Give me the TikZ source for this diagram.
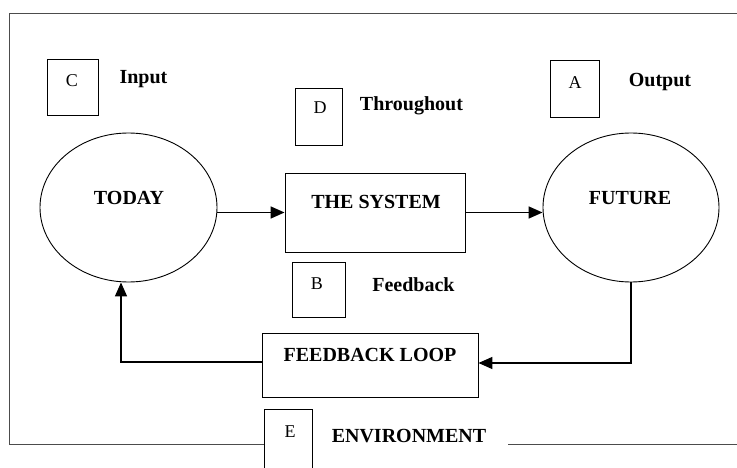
\documentclass[tikz,border=0pt]{standalone}
\usepackage{fontspec}
\setmainfont{Liberation Serif}
\usetikzlibrary{arrows.meta,calc,shapes.geometric}
\begin{document}
\begin{tikzpicture}[x=1pt,y=-1pt,
  lbl/.style={font=\fontsize{20}{23}\selectfont\bfseries, inner sep=0pt},
  letter/.style={font=\fontsize{18}{21}\selectfont, inner sep=0pt},
  box/.style={draw, line width=0.9pt, inner sep=0pt, rectangle},
  oval/.style={draw, ellipse, line width=0.9pt, inner sep=0pt},
  conn/.style={line width=1.5pt, -{Triangle[length=14pt,width=12pt]}},
  frame/.style={draw=black!70, line width=1pt},
]
\useasboundingbox (0,0) rectangle (737,468);
\clip (0,0) rectangle (737,468);

% frame
\coordinate (fTR) at (737,14);
\coordinate (fTL) at (9,14);
\coordinate (fBL) at (9,444);
\coordinate (fBR) at (737,444);
\coordinate (fB2) at (508,444);

% ellipses
\node[oval, minimum width=177pt, minimum height=149pt] (today) at (128.5,207.5) {};
\node[oval, minimum width=176pt, minimum height=149pt] (future) at (631,207.5) {};
\node[lbl] (todayt) at (129,198) {TODAY};
\node[lbl] (futuret) at (630,198) {FUTURE};
\coordinate (todayin) at ($(today.south)+(-7.5,0)$);

% main boxes
\node[box, minimum width=180pt, minimum height=79pt] (system) at (375,212.5) {};
\node[lbl] (systemt) at (376,202) {THE SYSTEM};
\node[box, minimum width=216pt, minimum height=64pt] (fbl) at (370,365) {};
\node[lbl] (fblt) at (370,355) {FEEDBACK LOOP};

% letter boxes
\node[box, minimum width=51pt, minimum height=56pt] (cbox) at (72.5,87) {};
\node[letter] (ct) at (72,81) {C};
\node[lbl] (input) at (143.5,79) {Input};

\node[box, minimum width=47pt, minimum height=57pt] (dbox) at (318.5,116.5) {};
\node[letter] (dt) at (320,108) {D};
\node[lbl] (through) at (411.5,106) {Throughout};

\node[box, minimum width=49pt, minimum height=57pt] (abox) at (574.5,88.5) {};
\node[letter] (at) at (575,83) {A};
\node[lbl] (output) at (660,82) {Output};

\node[box, minimum width=53pt, minimum height=55pt] (bbox) at (318.5,289.5) {};
\node[letter] (bt) at (317,284) {B};
\node[lbl] (feedback) at (413.5,285) {Feedback};

\node[box, minimum width=48pt, minimum height=71pt] (ebox) at (288,444.5) {};
\node[letter] (et) at (290,432) {E};
\node[lbl] (env) at (409,436) {ENVIRONMENT};

% frame lines
\draw[frame] (fTR) -- (fTL) -- (fBL) -- (fBL -| ebox.west);
\draw[frame] (fB2) -- (fBR);

% connectors
\draw[conn] (system.west -| today.east) -- (system.west);
\draw[conn] (system.east) -- (system.east -| future.west);
\draw[conn] (future.south) |- ($(fbl.east)+(0,-2)$);
\draw[conn] ($(fbl.west)+(0,-3)$) -| (todayin);
\end{tikzpicture}
\end{document}
